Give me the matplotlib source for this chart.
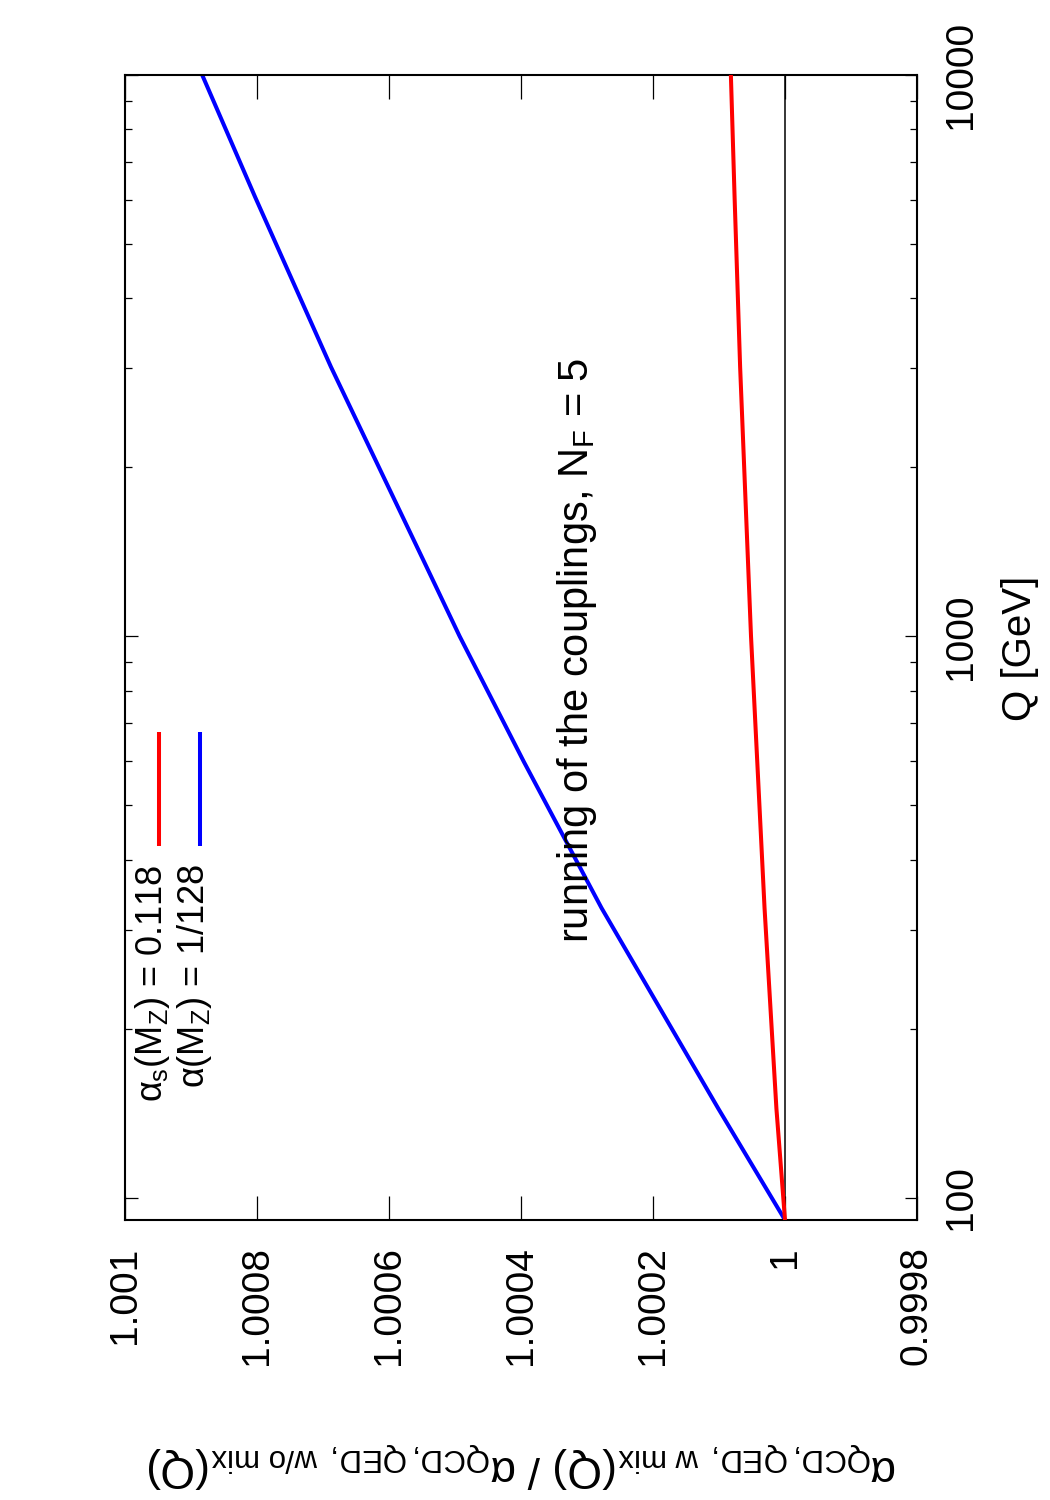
import matplotlib
matplotlib.use("Agg")
import matplotlib.pyplot as plt
import numpy as np

# ratio of couplings with / without mixing
q_as = [91.1876, 144.0, 328.0, 1000.0, 3020.0, 6067.0, 10000.0]
ratio_as = [1.0, 1.000013, 1.000031, 1.0000515, 1.000068, 1.0000764, 1.000082]
q_aem = [91.1876, 144.0, 328.0, 597.0, 1000.0, 1359.0, 3020.0, 6067.0, 10000.0]
ratio_aem = [1.0, 1.000101, 1.000278, 1.0003955, 1.000493, 1.000547, 1.000688,
             1.000803, 1.000883]

ratio_ticks = [0.9998, 1.0, 1.0002, 1.0004, 1.0006, 1.0008, 1.001]
ratio_labels = ["0.9998", "1", "1.0002", "1.0004", "1.0006", "1.0008", "1.001"]
q_ticks = [100, 1000, 10000]
q_labels = ["100", "1000", "10000"]

plt.rcParams['font.family'] = ['Liberation Sans', 'DejaVu Sans']
plt.rcParams['mathtext.fontset'] = 'custom'
plt.rcParams['mathtext.rm'] = 'Liberation Sans'
plt.rcParams['mathtext.it'] = 'Liberation Sans'
plt.rcParams['mathtext.sf'] = 'Liberation Sans'

W, H = 1050, 1500

fig = plt.figure(figsize=(10.5, 15), dpi=100)
# the whole gnuplot page is turned by 90 degrees: Q runs upwards, ratio runs leftwards
ax = fig.add_axes([125 / W, 1 - 1220 / H, (917 - 125) / W, (1220 - 75) / H])

ax.axvline(1.0, color='black', lw=1.1, zorder=1)
ax.plot(ratio_as, q_as, color='#ff0000', lw=2.9, solid_capstyle='butt',
        solid_joinstyle='round', zorder=3)
ax.plot(ratio_aem, q_aem, color='#0000ff', lw=2.9, solid_capstyle='butt',
        solid_joinstyle='round', zorder=2)

ax.set_yscale('log')
ax.set_xlim(1.001, 0.9998)
ax.set_ylim(91.1876, 10000)

ax.set_xticks(ratio_ticks)
ax.set_xticklabels(ratio_labels)
ax.set_yticks(q_ticks)
ax.set_yticklabels(q_labels)
minor = [m * d for d in (100, 1000) for m in range(2, 10)]
ax.yaxis.set_minor_locator(matplotlib.ticker.FixedLocator(minor))
ax.yaxis.set_minor_formatter(matplotlib.ticker.NullFormatter())

ax.tick_params(axis='x', which='major', direction='in', top=True, bottom=True,
               length=17, width=0.9, labelsize=28, labelrotation=90, pad=19)
ax.tick_params(axis='y', which='major', direction='in', left=True, right=True,
               labelleft=False, labelright=True, length=9, width=0.9,
               labelsize=28, labelrotation=90, pad=19)
ax.tick_params(axis='y', which='minor', direction='in', left=True, right=True,
               length=5, width=0.9)
for lab in ax.get_yticklabels():
    lab.set_verticalalignment('center')
for sp in ax.spines.values():
    sp.set_linewidth(1.5)

# title placed inside the frame
fig.text(577 / W, 1 - 650 / H, r'running of the couplings, N$_\mathrm{F}$ = 5',
         rotation=90, ha='center', va='center', fontsize=30)

# key
key_entries = [(r'$\alpha_\mathrm{s}(\mathrm{M_Z})$ = 0.118', '#ff0000', 159),
               (r'$\alpha(\mathrm{M_Z})$ = 1/128', '#0000ff', 200)]
for txt, col, xp in key_entries:
    fig.text((xp - 6) / W, 1 - 864 / H, txt, rotation=90, ha='center', va='top',
             fontsize=26)
    fig.add_artist(plt.Line2D([xp / W, xp / W], [1 - 846 / H, 1 - 732 / H],
                              color=col, lw=2.9, solid_capstyle='butt'))

fig.text(1020 / W, 1 - 648 / H, 'Q [GeV]', rotation=90, ha='center', va='center',
         fontsize=29)
fig.text(522 / W, 1 - 1465 / H,
         r'$\alpha_\mathrm{QCD,QED,\ w\ mix}(\mathrm{Q})\ /\ \alpha_\mathrm{QCD,QED,\ w/o\ mix}(\mathrm{Q})$',
         rotation=180, ha='center', va='center', fontsize=32)

fig.savefig('out.png', dpi=100)
